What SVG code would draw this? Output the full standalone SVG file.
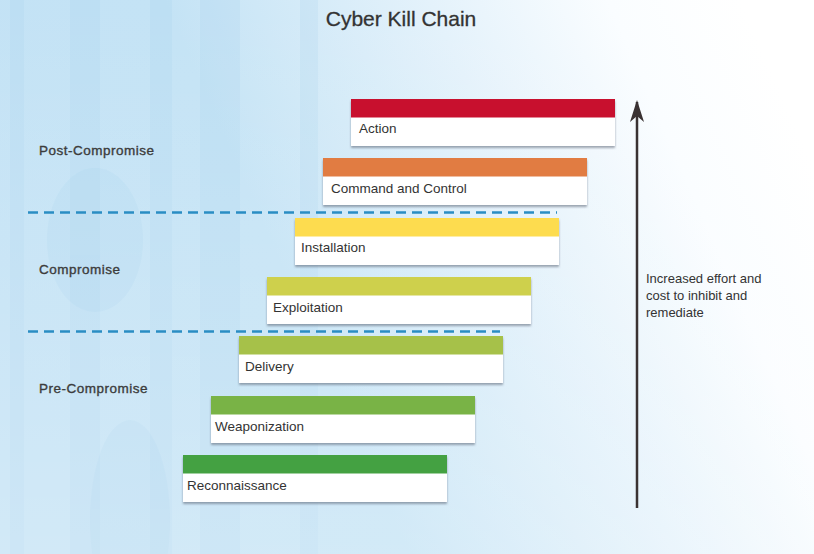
<svg xmlns="http://www.w3.org/2000/svg" width="814" height="554" viewBox="0 0 814 554">
  <defs>
    <linearGradient id="bg" x1="0" y1="0.6" x2="1" y2="0.3">
      <stop offset="0" stop-color="#c3e2f5"/>
      <stop offset="0.35" stop-color="#c4e3f5"/>
      <stop offset="0.65" stop-color="#e4f2fb"/>
      <stop offset="0.85" stop-color="#fafdff"/>
      <stop offset="1" stop-color="#ffffff"/>
    </linearGradient>
    <linearGradient id="bot" x1="0" y1="0" x2="0" y2="1">
      <stop offset="0" stop-color="#ffffff" stop-opacity="0"/>
      <stop offset="1" stop-color="#ffffff" stop-opacity="0.25"/>
    </linearGradient>
    <filter id="sh" x="-5%" y="-10%" width="110%" height="130%">
      <feDropShadow dx="0" dy="2" stdDeviation="1.2" flood-color="#556070" flood-opacity="0.55"/>
    </filter>
    <marker id="ah" viewBox="0 0 22 16" refX="20" refY="8" markerWidth="22" markerHeight="16" markerUnits="userSpaceOnUse" orient="auto">
      <path d="M22,8 L0,1 L6,8 L0,15 Z" fill="#3a3232"/>
    </marker>
    <style>
      .lbl{font-family:"Liberation Sans",Arial,sans-serif;font-size:13.5px;fill:#333333}
      .phase{font-family:"Liberation Sans",Arial,sans-serif;font-size:13.5px;letter-spacing:0.5px;fill:#3c3c3c;stroke:#3c3c3c;stroke-width:0.35}
      .note{font-family:"Liberation Sans",Arial,sans-serif;font-size:13px;fill:#333333}
      .title{font-family:"Liberation Sans",Arial,sans-serif;font-size:21px;fill:#333333;stroke:#333333;stroke-width:0.3}
      .card{fill:#ffffff;filter:url(#sh)}
      .dash{stroke:#2a8dc3;stroke-width:2.5;stroke-dasharray:10 6;fill:none}
    </style>
  </defs>

  <!-- background -->
  <rect x="0" y="0" width="814" height="554" fill="url(#bg)"/>
  <g opacity="0.22" fill="#a9d3ee">
    <rect x="10" y="0" width="14" height="554"/>
    <rect x="70" y="0" width="30" height="554"/>
    <rect x="150" y="0" width="22" height="554"/>
    <rect x="200" y="0" width="40" height="554"/>
    <rect x="300" y="0" width="18" height="554"/>
  </g>
  <g opacity="0.12" fill="#8cc2e6">
    <ellipse cx="95" cy="240" rx="48" ry="72"/>
    <ellipse cx="130" cy="520" rx="40" ry="100"/>
  </g>
  <rect x="0" y="0" width="814" height="554" fill="url(#bot)"/>

  <text class="title" x="401" y="26" text-anchor="middle">Cyber Kill Chain</text>

  <!-- phase labels -->
  <text class="phase" x="39" y="155">Post-Compromise</text>
  <text class="phase" x="39" y="274">Compromise</text>
  <text class="phase" x="39" y="393">Pre-Compromise</text>

  <!-- connectors -->
  <g id="connectors">
    <line class="dash" x1="28" y1="212.5" x2="557" y2="212.5"/>
    <line class="dash" x1="28" y1="331.5" x2="500" y2="331.5"/>
    <line x1="637" y1="508" x2="637" y2="102" stroke="#3a3232" stroke-width="2.5" marker-end="url(#ah)"/>
  </g>

  <text class="note" x="646" y="283">Increased effort and</text>
  <text class="note" x="646" y="300">cost to inhibit and</text>
  <text class="note" x="646" y="317">remediate</text>

  <!-- nodes -->
  <g id="action">
    <rect class="card" x="351" y="99" width="264" height="47"/>
    <rect x="351" y="99" width="264" height="18.5" fill="#c8102e"/>
    <text class="lbl" x="359" y="133">Action</text>
  </g>
  <g id="command-and-control">
    <rect class="card" x="323" y="158" width="264" height="47"/>
    <rect x="323" y="158" width="264" height="18.5" fill="#e17c42"/>
    <text class="lbl" x="331" y="193">Command and Control</text>
  </g>
  <g id="installation">
    <rect class="card" x="295" y="218" width="264" height="47"/>
    <rect x="295" y="218" width="264" height="18.5" fill="#fddc4f"/>
    <text class="lbl" x="301" y="252">Installation</text>
  </g>
  <g id="exploitation">
    <rect class="card" x="267" y="277" width="264" height="47"/>
    <rect x="267" y="277" width="264" height="18.5" fill="#ced04c"/>
    <text class="lbl" x="273" y="312">Exploitation</text>
  </g>
  <g id="delivery">
    <rect class="card" x="239" y="336" width="264" height="47"/>
    <rect x="239" y="336" width="264" height="18.5" fill="#a6c149"/>
    <text class="lbl" x="245" y="371">Delivery</text>
  </g>
  <g id="weaponization">
    <rect class="card" x="211" y="396" width="264" height="47"/>
    <rect x="211" y="396" width="264" height="18.5" fill="#79b346"/>
    <text class="lbl" x="215" y="431">Weaponization</text>
  </g>
  <g id="reconnaissance">
    <rect class="card" x="183" y="455" width="264" height="47"/>
    <rect x="183" y="455" width="264" height="18.5" fill="#44a142"/>
    <text class="lbl" x="187" y="490">Reconnaissance</text>
  </g>
</svg>
